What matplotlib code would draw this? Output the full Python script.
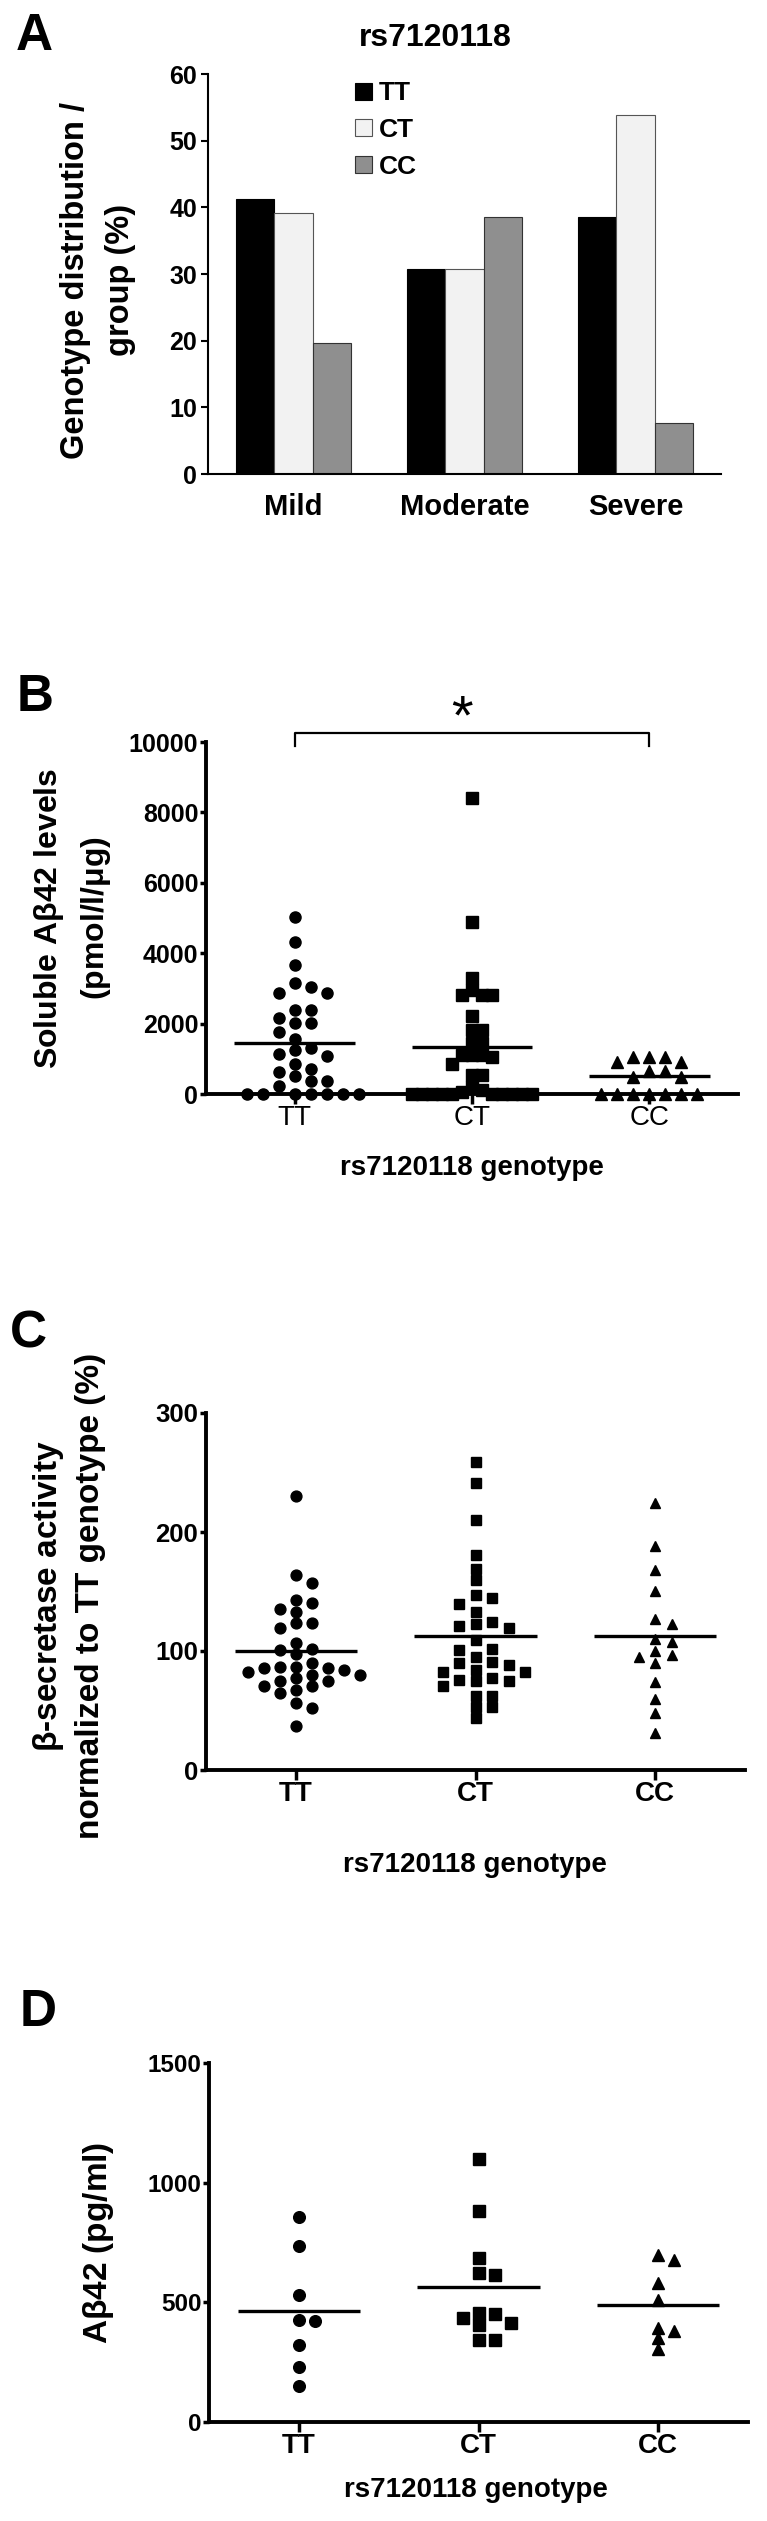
import matplotlib
matplotlib.use("Agg")
import matplotlib.pyplot as plt
from matplotlib.patches import Rectangle
import numpy as np

plt.rcParams['font.family'] = ['Liberation Sans', 'DejaVu Sans']
plt.rcParams['mathtext.fontset'] = 'custom'
plt.rcParams['mathtext.rm'] = 'Liberation Sans'
plt.rcParams['mathtext.it'] = 'Liberation Sans:italic'
plt.rcParams['mathtext.bf'] = 'Liberation Sans:bold'

# ---- data ----
severity = ['Mild', 'Moderate', 'Severe']
genotypes = ['TT', 'CT', 'CC']

# A: genotype distribution per severity group (%)
dist_tt = [41.2, 30.8, 38.5]
dist_ct = [39.2, 30.8, 53.8]
dist_cc = [19.6, 38.5, 7.7]

# B: soluble Abeta42 (pmol/l/ug)
sol_tt = [5020, 4310, 3660, 3140, 3050, 2870, 2870, 2400, 2400, 2170, 2020, 2020,
          1760, 1550, 1310, 1240, 1140, 1070, 840, 710, 620, 500, 380, 360, 220,
          0, 0, 0, 0, 0, 0, 0]
sol_ct = [8400, 4900, 3290, 2950, 2810, 2810, 2810, 2210, 1830, 1830, 1450, 1450,
          1100, 1100, 1100, 1050, 850, 540, 540, 190, 100, 50,
          0, 0, 0, 0, 0, 0, 0, 0, 0, 0]
sol_cc = [1065, 1065, 1065, 920, 920, 640, 640, 480, 480, 0, 0, 0, 0, 0, 0, 0]
sol_means = [1450, 1330, 500]

# C: beta-secretase activity (% of TT)
bsec_tt = [230, 163.5, 157, 143, 140, 135.7, 133, 123.7, 123.7, 119, 107, 101.4,
           100.8, 97.2, 89.7, 86.9, 86.9, 86, 85.5, 84, 82.7, 80, 80, 77.2, 75.2,
           74.4, 70.8, 70.8, 67.4, 64.6, 56.3, 52, 37]
bsec_ct = [258.6, 241, 210.5, 181, 169, 159.3, 146.8, 144.6, 139.3, 132.9, 124.5,
           122.3, 121.2, 119, 109.2, 101.4, 100.8, 94.7, 90.5, 89.7, 88.3, 84.1,
           82.7, 82.2, 77.2, 75.8, 74.4, 74.4, 70.8, 61.8, 61.8, 52.6, 52.6, 43.7]
bsec_cc = [224, 188.6, 167.7, 150.2, 127.3, 123, 110, 107.5, 100.3, 97, 95, 89.7,
           74, 60, 48, 31.2]
bsec_means = [100, 112.5, 112.5]

# D: Abeta42 (pg/ml)
csf_tt = [855, 737, 531, 427, 421, 320, 230, 149]
csf_ct = [1100, 883, 685, 621, 616, 455, 452, 435, 414, 407, 341, 341]
csf_cc = [699, 677, 581, 510, 394, 380, 352, 303]
csf_means = [463, 563, 489]

bar_colors = ['#000000', '#f2f2f2', '#8f8f8f']
bar_edges = ['#000000', '#555555', '#333333']

W, H = 767, 2521
fig = plt.figure(figsize=(W / 100, H / 100), dpi=100)


def fx(x):
    return x / W


def fy(y):
    return 1 - y / H


def add_ax(l, t, r, b):
    return fig.add_axes([l / W, 1 - b / H, (r - l) / W, (b - t) / H])


def swarm_x(ax, xc, vals, w_px, h_px):
    # simple beeswarm in pixel space, like the Prism scatter dot plot
    tr = ax.transData
    ppx = tr.transform((1, 0))[0] - tr.transform((0, 0))[0]
    placed = []
    xs = np.zeros(len(vals))
    for i in sorted(range(len(vals)), key=lambda k: -vals[k]):
        py = tr.transform((xc, vals[i]))[1]
        j = 0
        found = None
        while found is None:
            offs = [0.0] if j == 0 else [j * w_px / 2, -j * w_px / 2]
            for off in offs:
                if all(abs(off - ox) >= w_px - 1e-6 or abs(py - oy) >= h_px
                       for ox, oy in placed):
                    found = off
                    break
            j += 1
        placed.append((found, py))
        xs[i] = xc + found / ppx
    return xs


def style_dot_axes(ax, ymax, ystep, ysize, xweight):
    ax.set_xlim(-0.5, 2.5)
    ax.set_ylim(0, ymax)
    ax.set_yticks(np.arange(0, ymax + 1, ystep))
    ax.set_xticks(range(3))
    ax.set_xticklabels(genotypes, fontsize=20, fontweight=xweight)
    for s in ['top', 'right']:
        ax.spines[s].set_visible(False)
    for s in ['left', 'bottom']:
        ax.spines[s].set_linewidth(2.8)
    ax.tick_params(axis='y', length=4.5, width=2.5, labelsize=ysize, pad=1)
    ax.tick_params(axis='x', length=7, width=2.5, pad=1)
    for lab in ax.get_yticklabels():
        lab.set_fontweight('bold')


def dot_panel(ax, groups, means, markers, widths, ms):
    for k, vals in enumerate(groups):
        xs = swarm_x(ax, k, vals, widths[k], 10)
        ax.plot(xs, vals, ls='none', marker=markers[k], ms=ms, color='black',
                clip_on=False, zorder=3)
        ax.hlines(means[k], k - 0.34, k + 0.34, color='black', lw=2.4, zorder=4)


def ylab(x, y, s, size):
    fig.text(fx(x), fy(y), s, rotation=90, fontsize=size, fontweight='bold',
             ha='center', va='center')


# ---------------- Panel A ----------------
fig.text(fx(16), fy(50), 'A', fontsize=37, fontweight='bold', va='baseline')
fig.text(fx(435), fy(46), 'rs7120118', fontsize=23, fontweight='bold',
         ha='center', va='baseline')
axA = add_ax(208, 74, 721, 474)
x = np.arange(len(severity))
bw = 0.225
for k, vals in enumerate([dist_tt, dist_ct, dist_cc]):
    axA.bar(x + (k - 1) * bw, vals, bw, color=bar_colors[k],
            edgecolor=bar_edges[k], lw=0.8)
axA.set_xlim(-0.5, 2.5)
axA.set_ylim(0, 60)
axA.set_yticks(range(0, 61, 10))
axA.set_xticks(x)
axA.set_xticklabels(severity, fontsize=21, fontweight='bold')
for s in ['top', 'right']:
    axA.spines[s].set_visible(False)
for s in ['left', 'bottom']:
    axA.spines[s].set_linewidth(1.5)
axA.tick_params(axis='x', length=0, pad=14)
axA.tick_params(axis='y', length=5, width=1.5, labelsize=18, pad=3)
for lab in axA.get_yticklabels():
    lab.set_fontweight('bold')
# legend drawn as small squares + labels
for k, g in enumerate(genotypes):
    yc = 91 + k * 36.5
    fig.patches.append(Rectangle((fx(355), fy(yc + 8.5)), 17 / W, 17 / H,
                                 transform=fig.transFigure,
                                 facecolor=bar_colors[k],
                                 edgecolor=bar_edges[k], lw=0.8))
    fig.text(fx(379), fy(yc + 9.5), g, fontsize=19, fontweight='bold',
             va='baseline')
ylab(76, 280, 'Genotype distribution /', 23.5)
ylab(120, 280, 'group (%)', 23.5)

# ---------------- Panel B ----------------
fig.text(fx(17), fy(711), 'B', fontsize=37, fontweight='bold', va='baseline')
axB = add_ax(206, 742, 738, 1094)
style_dot_axes(axB, 10000, 2000, 18, 'normal')
dot_panel(axB, [sol_tt, sol_ct, sol_cc], sol_means, ['o', 's', '^'],
          [16, 10, 16], 8)
axB.plot([0, 0, 2, 2], [9886, 10256, 10256, 9886], color='black', lw=1.6,
         clip_on=False)
fig.text(fx(462), fy(733), '*', fontsize=40, ha='center', va='baseline')
ylab(49, 918, r'Soluble $\mathregular{A\beta}$42 levels', 23)
ylab(96, 918, r'(pmol/l/$\mathregular{\mu}$g)', 23)
fig.text(fx(472), fy(1175), 'rs7120118 genotype', fontsize=20,
         fontweight='bold', ha='center', va='baseline')

# ---------------- Panel C ----------------
fig.text(fx(10), fy(1348), 'C', fontsize=37, fontweight='bold', va='baseline')
axC = add_ax(206, 1413, 745, 1770)
style_dot_axes(axC, 300, 100, 18.5, 'bold')
dot_panel(axC, [bsec_tt, bsec_ct, bsec_cc], bsec_means, ['o', 's', '^'],
          [16, 16.5, 16.5], 7.8)
ylab(49, 1596, r'$\mathregular{\beta}$-secretase activity', 24)
ylab(91, 1596, 'normalized to TT genotype (%)', 24)
fig.text(fx(475), fy(1872), 'rs7120118 genotype', fontsize=20,
         fontweight='bold', ha='center', va='baseline')

# ---------------- Panel D ----------------
fig.text(fx(20), fy(2026), 'D', fontsize=37, fontweight='bold', va='baseline')
axD = add_ax(209, 2063, 748, 2422)
style_dot_axes(axD, 1500, 500, 17.5, 'bold')
dot_panel(axD, [csf_tt, csf_ct, csf_cc], csf_means, ['o', 's', '^'],
          [16, 16, 16], 8.4)
ylab(98, 2243, r'$\mathregular{A\beta}$42 (pg/ml)', 24)
fig.text(fx(476), fy(2497), 'rs7120118 genotype', fontsize=20,
         fontweight='bold', ha='center', va='baseline')

fig.savefig('out.png', dpi=100)
